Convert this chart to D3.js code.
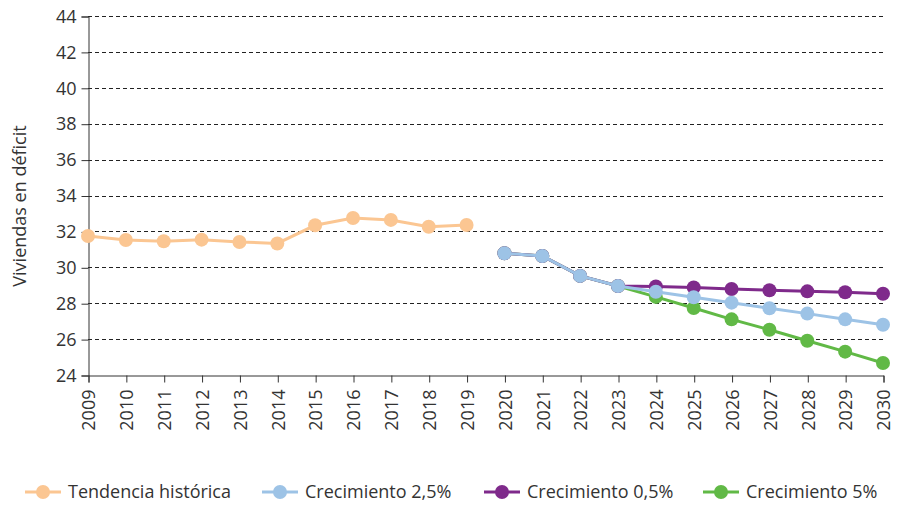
<!DOCTYPE html>
<html>
<head>
<meta charset="utf-8">
<script src="https://cdn.jsdelivr.net/npm/d3@7"></script>
<style>
  body { margin: 0; background: #fff; }
  svg text { font-family: "Open Sans", sans-serif; fill: #333; }
</style>
</head>
<body>
<script>
var WIDTH = 903;
var HEIGHT = 506;
var margin = {top: 16, right: 20, bottom: 131, left: 88};
var FONT = "18px";

// years on the x axis
var years = d3.range(2009, 2031);
var yTicks = [24, 26, 28, 30, 32, 34, 36, 38, 40, 42, 44];

// historic trend 2009-2019
var histYears = d3.range(2009, 2020);
var histValues = [31.74, 31.52, 31.45, 31.54, 31.41, 31.33, 32.34, 32.75, 32.64, 32.26, 32.36];

// projections 2020-2030
var projYears = d3.range(2020, 2031);
var grow25 = [30.78, 30.63, 29.52, 28.96, 28.64, 28.33, 28.03, 27.72, 27.42, 27.10, 26.80];
var grow05 = [30.78, 30.63, 29.52, 28.96, 28.93, 28.88, 28.79, 28.72, 28.66, 28.61, 28.53];
var grow5  = [30.78, 30.63, 29.52, 28.96, 28.35, 27.73, 27.10, 26.52, 25.91, 25.30, 24.67];

var seriesNames = ["Tendencia histórica", "Crecimiento 2,5%", "Crecimiento 0,5%", "Crecimiento 5%"];
var colors = ["#fbc692", "#9dc3e6", "#7f2a8b", "#61b946"];

// drawing order: blue scenario ends up on top
var series = [
  {name: seriesNames[0], color: colors[0], pts: histYears.map((y, i) => ({x: y, v: histValues[i]}))},
  {name: seriesNames[3], color: colors[3], pts: projYears.map((y, i) => ({x: y, v: grow5[i]}))},
  {name: seriesNames[2], color: colors[2], pts: projYears.map((y, i) => ({x: y, v: grow05[i]}))},
  {name: seriesNames[1], color: colors[1], pts: projYears.map((y, i) => ({x: y, v: grow25[i]}))}
];

var svg = d3.select("body").append("svg")
    .attr("width", WIDTH)
    .attr("height", HEIGHT);

var x = d3.scaleLinear().domain([2009, 2030]).range([margin.left, WIDTH - margin.right]);
var y = d3.scaleLinear().domain([24, 44]).range([HEIGHT - margin.bottom, margin.top]);

// dashed grid
svg.append("g").selectAll("line")
  .data(yTicks.filter(d => d > 24))
  .enter().append("line")
    .attr("x1", x(2009)).attr("x2", x(2030))
    .attr("y1", d => Math.round(y(d)) + 0.5)
    .attr("y2", d => Math.round(y(d)) + 0.5)
    .attr("stroke", "#222")
    .attr("stroke-dasharray", "4,3");

// y axis
var yAxis = svg.append("g")
    .attr("transform", "translate(" + (x(2009) + 0.5) + ",0.5)")
    .call(d3.axisLeft(y).tickValues(yTicks).tickSize(7).tickPadding(5));
yAxis.selectAll("text").style("font-size", FONT);

// x axis
var xAxis = svg.append("g")
    .attr("transform", "translate(0.5," + (Math.round(y(24)) + 0.5) + ")")
    .call(d3.axisBottom(x).tickValues(years).tickFormat(d3.format("d")).tickSize(7));
xAxis.selectAll("text")
    .style("font-size", FONT)
    .attr("text-anchor", "end")
    .attr("dy", "0.35em")
    .attr("transform", "translate(0,14) rotate(-90)")
    .attr("x", 0).attr("y", 0);

svg.selectAll(".domain, .tick line").attr("stroke", "#333");

// axis title
svg.append("text")
    .attr("transform", "translate(26,206) rotate(-90)")
    .attr("text-anchor", "middle")
    .style("font-size", FONT)
    .text("Viviendas en déficit");

var line = d3.line().x(d => x(d.x)).y(d => y(d.v));

series.forEach(s => {
  var g = svg.append("g");
  g.append("path")
    .attr("d", line(s.pts))
    .attr("fill", "none")
    .attr("stroke", s.color)
    .attr("stroke-width", 3);
  g.selectAll("circle")
    .data(s.pts)
    .enter().append("circle")
      .attr("cx", d => x(d.x))
      .attr("cy", d => y(d.v))
      .attr("r", 7)
      .attr("fill", s.color);
});

// legend
var legendX = [25, 262, 484, 703];
var legend = svg.append("g").attr("transform", "translate(0,492)");
seriesNames.forEach((n, i) => {
  var g = legend.append("g").attr("transform", "translate(" + legendX[i] + ",0)");
  g.append("line").attr("x1", 0).attr("x2", 36)
    .attr("stroke", colors[i]).attr("stroke-width", 3);
  g.append("circle").attr("cx", 18).attr("r", 7).attr("fill", colors[i]);
  g.append("text").attr("x", 43).attr("dy", "0.35em")
    .style("font-size", FONT).text(n);
});
</script>
</body>
</html>
